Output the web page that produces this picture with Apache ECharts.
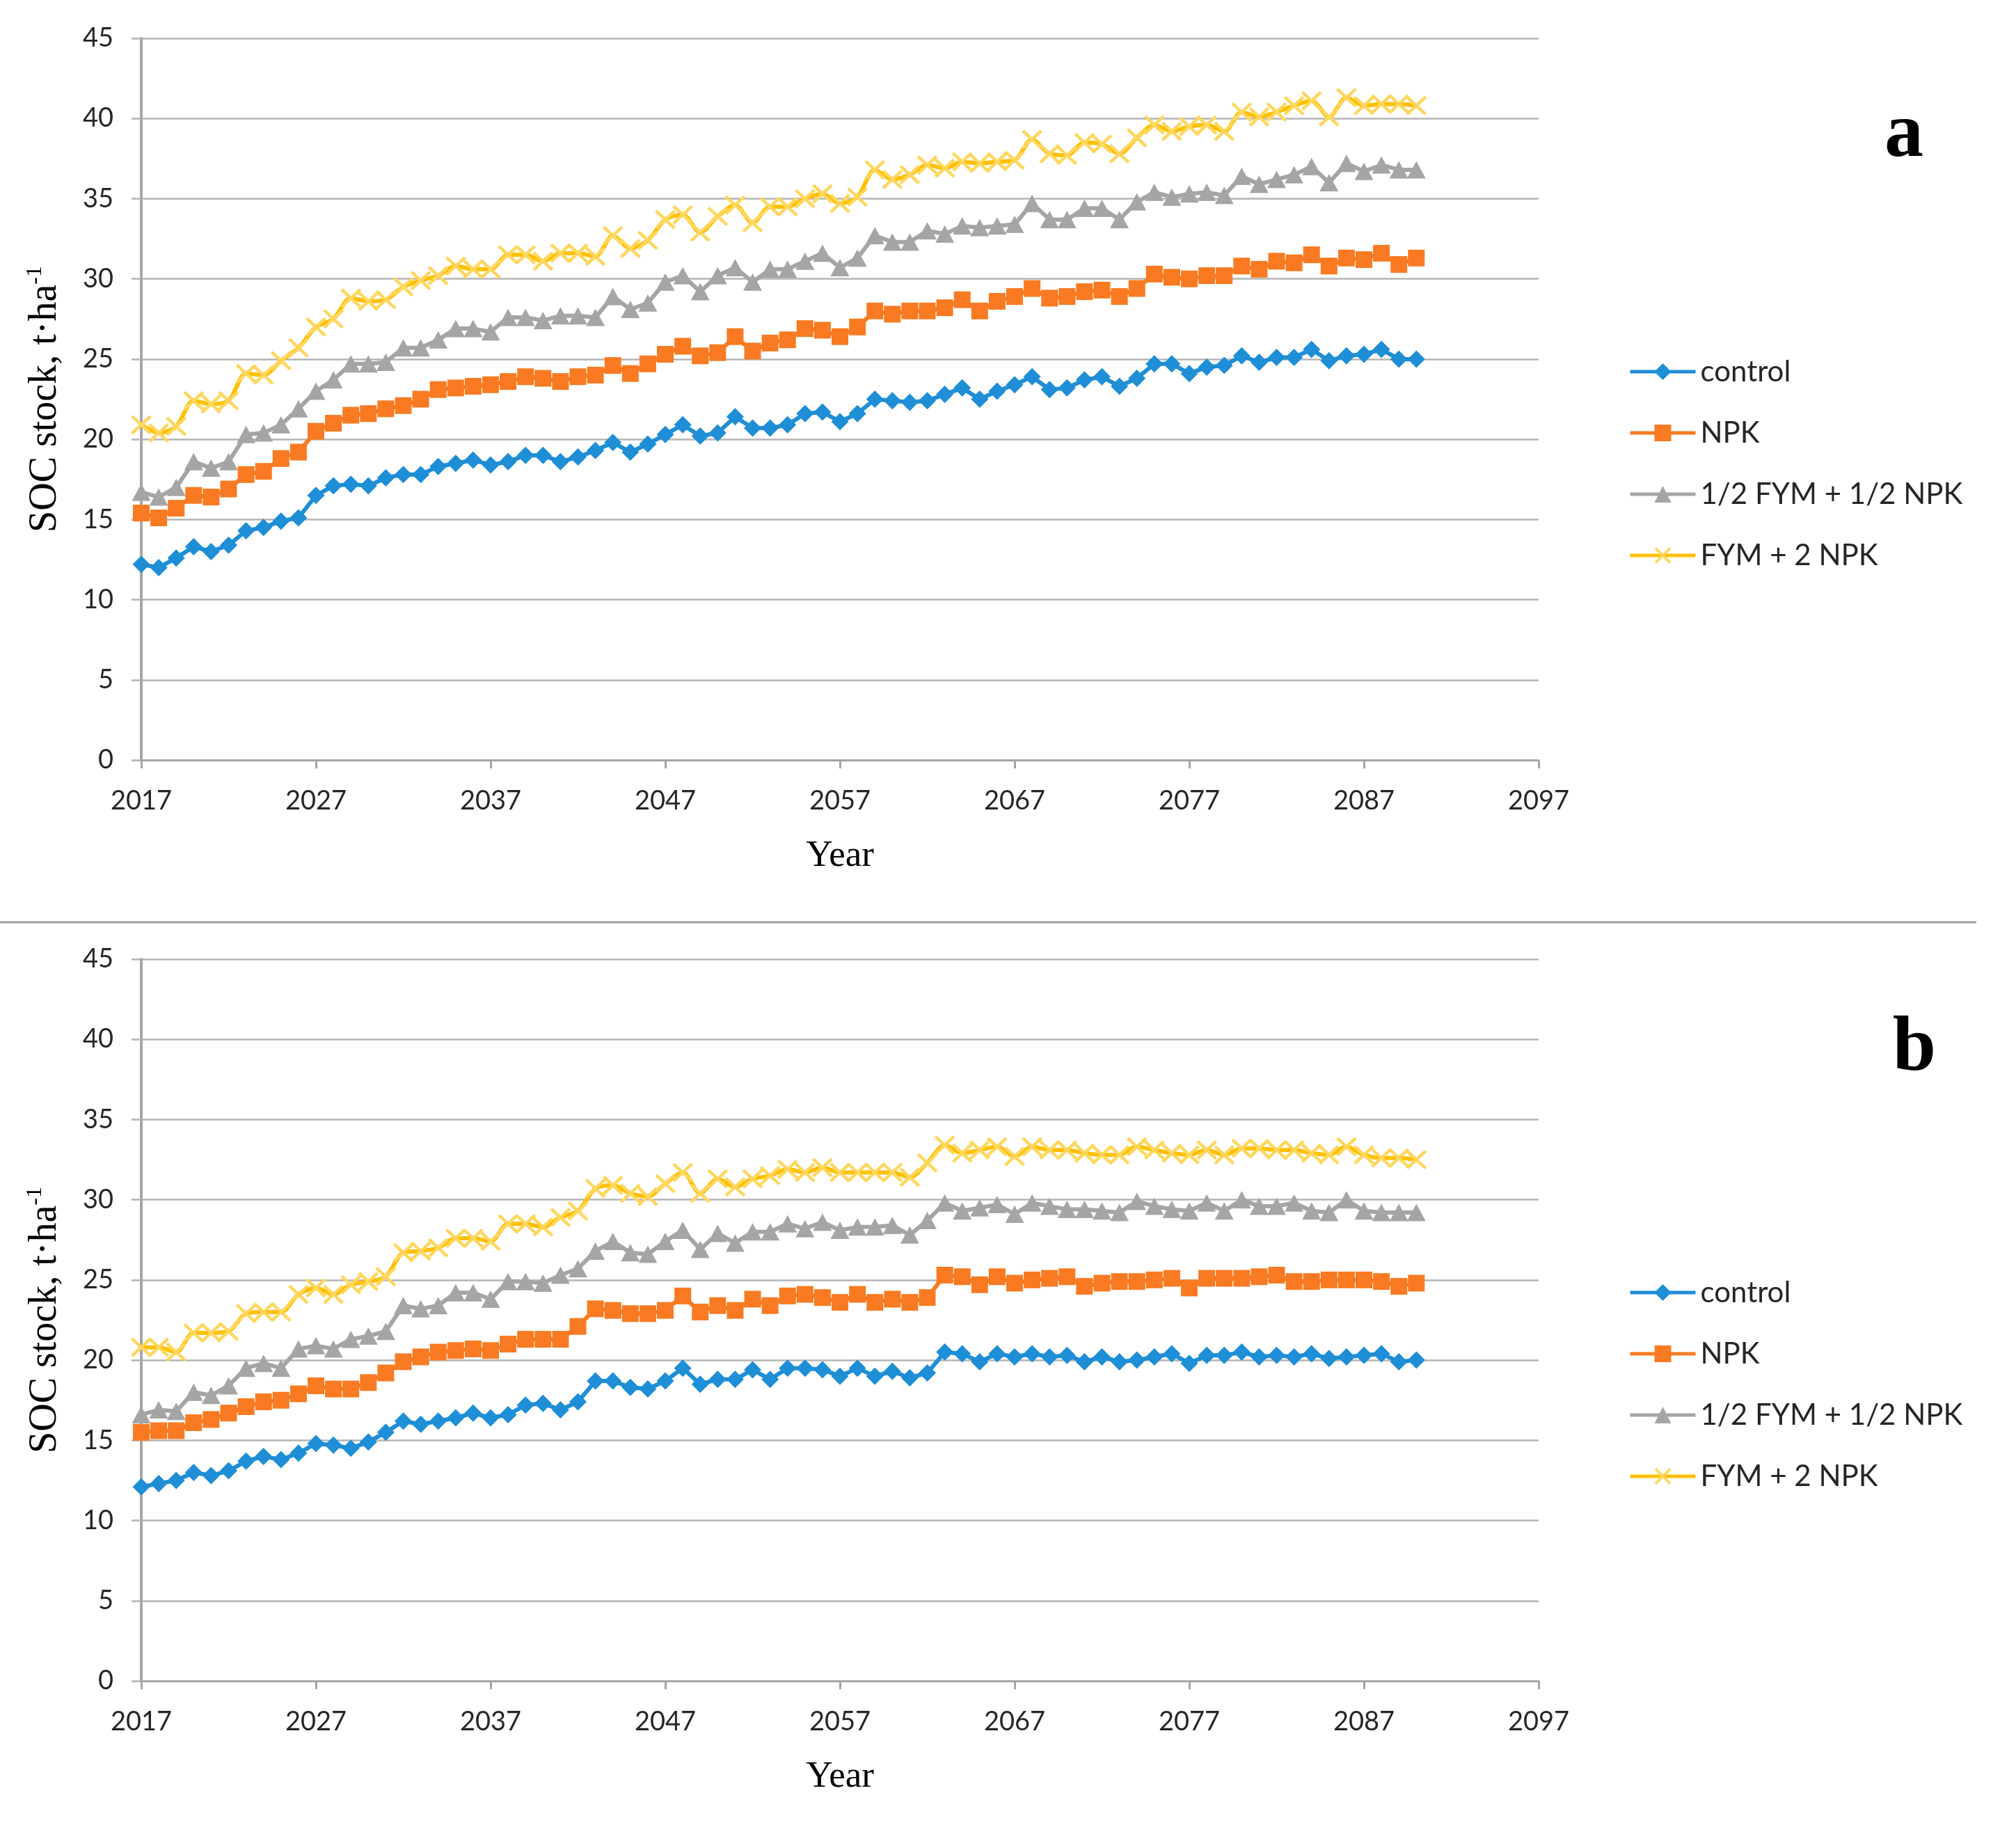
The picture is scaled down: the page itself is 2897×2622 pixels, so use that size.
<!DOCTYPE html>
<html>
<head>
<meta charset="utf-8">
<script src="https://cdn.jsdelivr.net/npm/echarts@6/dist/echarts.min.js"></script>
<style>
html,body{margin:0;padding:0;background:#fff;}
#chart{width:2897px;height:2622px;}
</style>
</head>
<body>
<div id="chart"></div>
<script>
// ---------- DATA ----------
const years = [2017,2018,2019,2020,2021,2022,2023,2024,2025,2026,2027,2028,2029,2030,2031,2032,2033,2034,2035,2036,
2037,2038,2039,2040,2041,2042,2043,2044,2045,2046,2047,2048,2049,2050,2051,2052,2053,2054,2055,2056,
2057,2058,2059,2060,2061,2062,2063,2064,2065,2066,2067,2068,2069,2070,2071,2072,2073,2074,2075,2076,
2077,2078,2079,2080,2081,2082,2083,2084,2085,2086,2087,2088,2089,2090];

const xTicks = [2017,2027,2037,2047,2057,2067,2077,2087,2097];
const seriesNames = ['control','NPK','1/2 FYM + 1/2 NPK','FYM + 2 NPK'];

// Panel a
const aControl = [12.2,12.0,12.6,13.3,13.0,13.4,14.3,14.5,14.9,15.1,16.5,17.1,17.2,17.1,17.6,17.8,17.8,18.3,18.5,18.7,
18.4,18.6,19.0,19.0,18.6,18.9,19.3,19.8,19.2,19.7,20.3,20.9,20.2,20.4,21.4,20.7,20.7,20.9,21.6,21.7,
21.1,21.6,22.5,22.4,22.3,22.4,22.8,23.2,22.5,23.0,23.4,23.9,23.1,23.2,23.7,23.9,23.3,23.8,24.7,24.7,
24.1,24.5,24.6,25.2,24.8,25.1,25.1,25.6,24.9,25.2,25.3,25.6,25.0,25.0];
const aNPK = [15.4,15.1,15.7,16.5,16.4,16.9,17.8,18.0,18.8,19.2,20.5,21.0,21.5,21.6,21.9,22.1,22.5,23.1,23.2,23.3,
23.4,23.6,23.9,23.8,23.6,23.9,24.0,24.6,24.1,24.7,25.3,25.8,25.2,25.4,26.4,25.5,26.0,26.2,26.9,26.8,
26.4,27.0,28.0,27.8,28.0,28.0,28.2,28.7,28.0,28.6,28.9,29.4,28.8,28.9,29.2,29.3,28.9,29.4,30.3,30.1,
30.0,30.2,30.2,30.8,30.6,31.1,31.0,31.5,30.8,31.3,31.2,31.6,30.9,31.3];
const aHalf = [16.7,16.4,17.0,18.6,18.2,18.6,20.3,20.4,20.9,21.9,23.0,23.7,24.7,24.7,24.8,25.7,25.7,26.2,26.9,26.9,
26.7,27.6,27.6,27.4,27.7,27.7,27.6,28.9,28.1,28.5,29.8,30.2,29.2,30.2,30.7,29.8,30.6,30.6,31.1,31.6,
30.7,31.3,32.7,32.3,32.3,33.0,32.8,33.3,33.2,33.3,33.4,34.7,33.7,33.7,34.4,34.4,33.7,34.8,35.4,35.1,
35.3,35.4,35.2,36.4,35.9,36.2,36.5,37.0,36.0,37.2,36.7,37.1,36.8,36.8];
const aFym = [20.9,20.4,20.8,22.4,22.2,22.4,24.1,24.0,24.9,25.7,27.0,27.5,28.8,28.6,28.7,29.5,29.9,30.2,30.8,30.6,
30.6,31.5,31.5,31.1,31.6,31.6,31.4,32.7,31.9,32.4,33.7,34.0,32.9,33.9,34.6,33.5,34.5,34.5,35.0,35.3,
34.7,35.1,36.8,36.2,36.5,37.1,36.9,37.3,37.2,37.3,37.4,38.7,37.8,37.7,38.5,38.4,37.8,38.8,39.6,39.2,
39.5,39.6,39.2,40.4,40.1,40.4,40.8,41.1,40.1,41.3,40.8,40.9,40.9,40.8];

// Panel b
const bControl = [12.1,12.3,12.5,13.0,12.8,13.1,13.7,14.0,13.8,14.2,14.8,14.7,14.5,14.9,15.5,16.2,16.0,16.2,16.4,16.7,
16.4,16.6,17.2,17.3,16.9,17.4,18.7,18.7,18.3,18.2,18.7,19.5,18.5,18.8,18.8,19.4,18.8,19.5,19.5,19.4,
19.0,19.5,19.0,19.3,18.9,19.2,20.5,20.4,19.9,20.4,20.2,20.4,20.2,20.3,19.9,20.2,19.9,20.0,20.2,20.4,
19.8,20.3,20.3,20.5,20.2,20.3,20.2,20.4,20.1,20.2,20.3,20.4,19.9,20.0];
const bNPK = [15.5,15.6,15.6,16.1,16.3,16.7,17.1,17.4,17.5,17.9,18.4,18.2,18.2,18.6,19.2,19.9,20.2,20.5,20.6,20.7,
20.6,21.0,21.3,21.3,21.3,22.1,23.2,23.1,22.9,22.9,23.1,24.0,23.0,23.4,23.1,23.8,23.4,24.0,24.1,23.9,
23.6,24.1,23.6,23.8,23.6,23.9,25.3,25.2,24.7,25.2,24.8,25.0,25.1,25.2,24.6,24.8,24.9,24.9,25.0,25.1,
24.5,25.1,25.1,25.1,25.2,25.3,24.9,24.9,25.0,25.0,25.0,24.9,24.6,24.8];
const bHalf = [16.6,16.9,16.8,18.0,17.8,18.4,19.5,19.8,19.5,20.7,20.9,20.7,21.3,21.5,21.8,23.4,23.2,23.4,24.2,24.2,
23.8,24.9,24.9,24.8,25.3,25.7,26.8,27.4,26.7,26.6,27.4,28.1,26.9,27.9,27.3,28.0,28.0,28.5,28.2,28.6,
28.1,28.3,28.3,28.4,27.8,28.7,29.8,29.3,29.5,29.7,29.1,29.8,29.6,29.4,29.4,29.3,29.2,29.9,29.6,29.4,
29.3,29.8,29.3,30.0,29.6,29.6,29.8,29.3,29.2,30.0,29.3,29.2,29.2,29.2];
const bFym = [20.8,20.8,20.5,21.7,21.7,21.8,22.9,23.0,23.0,24.1,24.5,24.1,24.7,24.9,25.2,26.7,26.8,27.0,27.6,27.6,
27.4,28.5,28.5,28.3,28.9,29.3,30.7,30.9,30.4,30.2,31.0,31.7,30.4,31.3,30.8,31.3,31.5,31.9,31.7,32.0,
31.7,31.7,31.7,31.7,31.4,32.3,33.4,32.9,33.1,33.3,32.7,33.3,33.1,33.1,32.9,32.8,32.8,33.3,33.1,32.9,
32.8,33.1,32.8,33.2,33.2,33.1,33.1,32.9,32.8,33.3,32.8,32.6,32.6,32.5];

// ---------- STYLE ----------
const tickFont = 'Lato';
const serifFont = 'Liberation Serif';
const gridColor = '#B4B4B4';
const axisColor = '#A6A6A6';
const xMarker = 'path://M0,1.1 L1.1,0 L10,8.9 L8.9,10 Z M8.9,0 L10,1.1 L1.1,10 L0,8.9 Z';

const styles = [
  {color:'#1E8ED6', symbol:'diamond', size:[25,25], smooth:false},
  {color:'#F97A22', symbol:'rect', size:[24,24], smooth:false},
  {color:'#A5A5A5', symbol:'triangle', size:[27,25], smooth:false},
  {color:'#FFC000', symbol:xMarker, size:[30,28], smooth:0.3, markerColor:'#FFD75E'}
];

const panels = [
  {top:55, data:[aControl,aNPK,aHalf,aFym]},
  {top:1378, data:[bControl,bNPK,bHalf,bFym]}
];

const grids = [], xAxes = [], yAxes = [], series = [], legends = [];
const legendTops = [507, 1830];

panels.forEach((p, pi) => {
  grids.push({left:203, top:p.top, width:2008, height:1037, containLabel:false});
  xAxes.push({
    type:'value', gridIndex:pi, min:2017, max:2097,
    splitLine:{show:false},
    axisLine:{show:true, onZero:false, lineStyle:{color:axisColor, width:3}},
    axisTick:{show:true, customValues:xTicks, length:12, lineStyle:{color:axisColor, width:3}},
    axisLabel:{customValues:xTicks, formatter:(v) => String(v), fontSize:38, fontFamily:tickFont, color:'#262626', margin:40},
    name:'Year', nameLocation:'middle', nameGap:112,
    nameTextStyle:{fontFamily:serifFont, fontSize:53, color:'#000'}
  });
  yAxes.push({
    type:'value', gridIndex:pi, min:0, max:45, interval:5,
    splitLine:{show:true, lineStyle:{color:gridColor, width:2.5}},
    axisLine:{show:true, lineStyle:{color:axisColor, width:4}},
    axisTick:{show:true, length:14, lineStyle:{color:gridColor, width:2.5}},
    axisLabel:{fontSize:38, fontFamily:tickFont, color:'#262626', margin:40},
    name:'SOC stock, t·ha{sup|-1}', nameLocation:'middle', nameRotate:90, nameGap:108,
    nameTextStyle:{fontFamily:serifFont, fontSize:56, color:'#000', lineHeight:60,
      rich:{sup:{fontFamily:serifFont, fontSize:32, color:'#000', verticalAlign:'top', lineHeight:60}}}
  });
  p.data.forEach((arr, si) => {
    const st = styles[si];
    series.push({
      name:seriesNames[si], type:'line', xAxisIndex:pi, yAxisIndex:pi,
      data:years.map((y, i) => [y, arr[i]]),
      symbol:st.symbol, symbolSize:st.size, smooth:st.smooth,
      showSymbol:true,
      lineStyle:{color:st.color, width:6},
      itemStyle:{color:st.markerColor || st.color},
      emphasis:{disabled:true},
      z: 2 + si
    });
  });
  legends.push({
    orient:'vertical', left:2335, top:legendTops[pi],
    itemWidth:94, itemHeight:30, itemGap:44,
    selectedMode:false,
    data:seriesNames,
    lineStyle:{width:5},
    textStyle:{fontSize:42, fontFamily:tickFont, color:'#262626', lineHeight:44, padding:[0,0,0,2]}
  });
});

const chart = echarts.init(document.getElementById('chart'), null, {renderer:'canvas'});
chart.setOption({
  animation:false,
  backgroundColor:'#ffffff',
  grid:grids, xAxis:xAxes, yAxis:yAxes, series:series, legend:legends,
  graphic:[
    {type:'line', shape:{x1:0, y1:1325, x2:2840, y2:1325}, style:{stroke:'#9E9E9E', lineWidth:3}},
    {type:'text', x:2736, y:195, style:{text:'a', fontFamily:serifFont, fontWeight:'bold', fontSize:112, fill:'#000', align:'center', verticalAlign:'middle'}},
    {type:'text', x:2751, y:1508, style:{text:'b', fontFamily:serifFont, fontWeight:'bold', fontSize:112, fill:'#000', align:'center', verticalAlign:'middle'}}
  ]
});
</script>
</body>
</html>
